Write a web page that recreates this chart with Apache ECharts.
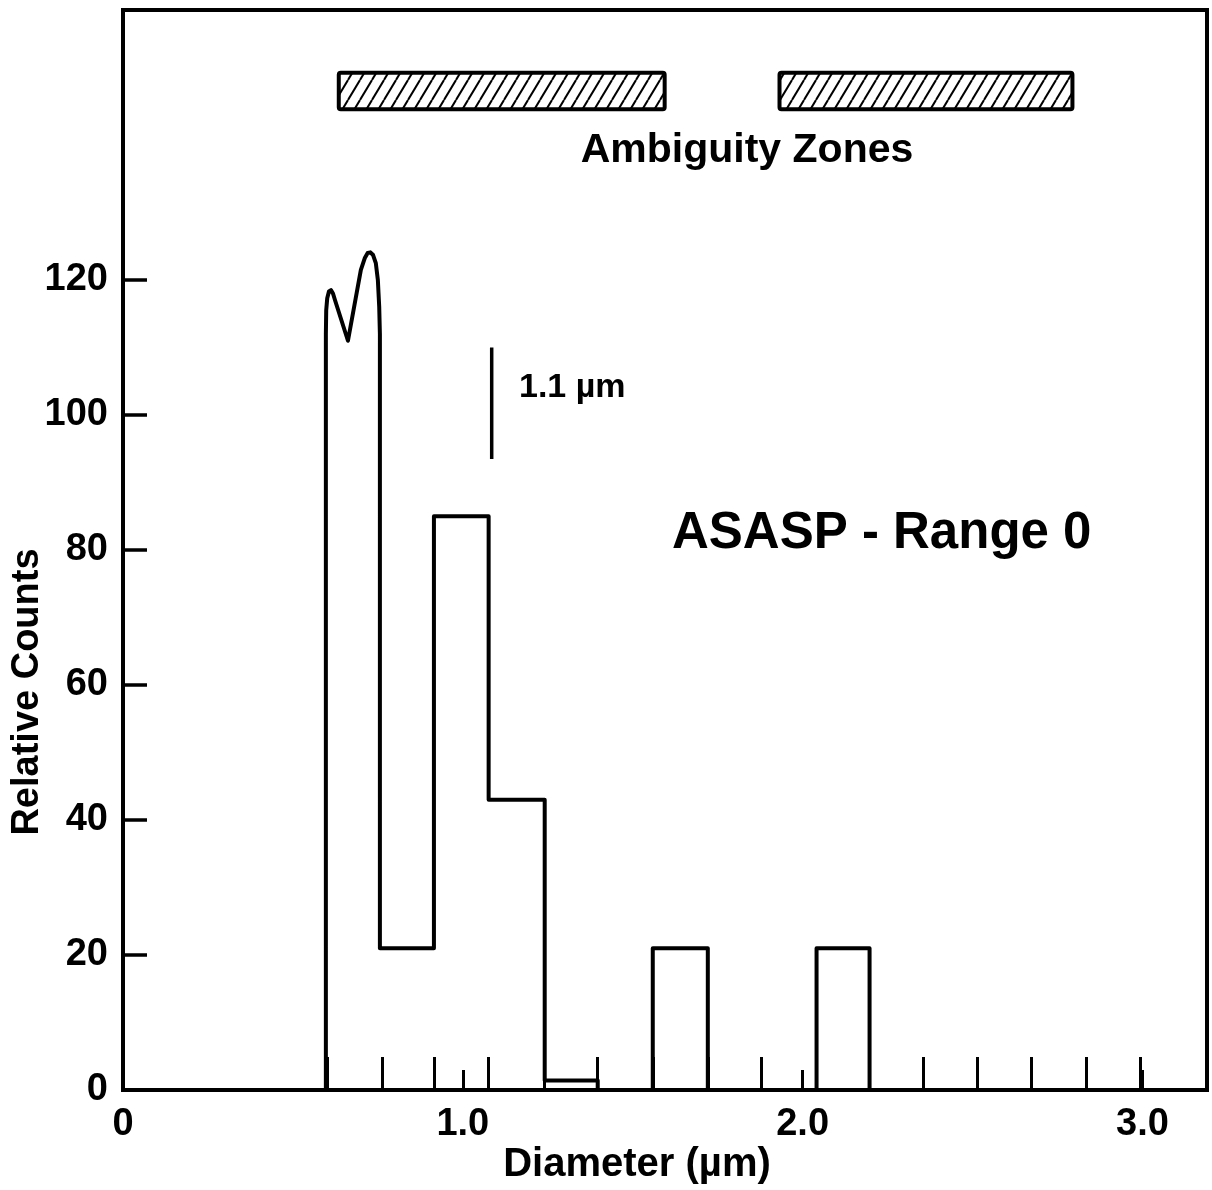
<!DOCTYPE html>
<html>
<head>
<meta charset="utf-8">
<script src="https://cdn.jsdelivr.net/npm/echarts@6/dist/echarts.min.js"></script>
<style>
html,body{margin:0;padding:0;background:#fff;}
#chart{width:1212px;height:1190px;}
</style>
</head>
<body>
<div id="chart"></div>
<script>
// ---- data ----
// channel boundaries of the ASASP range-0 (µm)
const channelEdges = [0.600, 0.762, 0.915, 1.076, 1.241, 1.397, 1.559, 1.721, 1.879, 2.041, 2.197, 2.356, 2.515, 2.674, 2.835, 2.994];
// relative counts per channel (first channel drawn as a curved top)
const binCounts = [null, 21, 85, 43, 1.4, 0, 21, 0, 0, 21];
// curved top of the first channel
const firstBinX = [0.597, 0.597, 0.598, 0.601, 0.606, 0.612, 0.618, 0.624, 0.662, 0.700, 0.712, 0.720, 0.728, 0.736, 0.744, 0.750, 0.754, 0.756];
const firstBinY = [0, 112, 115.5, 117.3, 118.3, 118.5, 118, 117, 111, 121.5, 123.3, 124, 124.1, 123.7, 122.5, 120, 116, 112];
// ambiguity zones (µm) and their drawn band (counts)
const zoneStart = [0.635, 1.932];
const zoneEnd = [1.594, 2.794];
const zoneLow = [145.3, 145.3];
const zoneHigh = [150.7, 150.7];
// 1.1 µm marker
const markerX = [1.085, 1.085];
const markerY = [93.5, 110];
// axis ticks
const xTickValues = [1, 2, 3];
const xLabelValues = [0, 1, 2, 3];
const yTickValues = [0, 20, 40, 60, 80, 100, 120];

// ---- build outline ----
const outline = [];
for (let i = 0; i < firstBinX.length; i++) outline.push([firstBinX[i], firstBinY[i]]);
for (let i = 1; i < binCounts.length; i++) {
  const left = (i === 1) ? firstBinX[firstBinX.length - 1] : channelEdges[i];
  outline.push([left, binCounts[i]]);
  outline.push([channelEdges[i + 1], binCounts[i]]);
}
outline.push([channelEdges[binCounts.length], 0]);

const zoneData = zoneStart.map((s, i) => [s, zoneEnd[i], zoneLow[i], zoneHigh[i]]);
const markerData = markerX.map((x, i) => [x, markerY[i]]);

// hatch pattern
const hatch = document.createElement('canvas');
hatch.width = 12; hatch.height = 20;
(function(){
  const c = hatch.getContext('2d');
  c.fillStyle = '#fff'; c.fillRect(0, 0, 12, 20);
  c.strokeStyle = '#000'; c.lineWidth = 2;
  [-12, 0, 12].forEach(dx => {
    c.beginPath(); c.moveTo(dx, 20); c.lineTo(dx + 12, 0); c.stroke();
  });
})();

const FONT = '"Liberation Sans", Arial, Helvetica, sans-serif';
const chart = echarts.init(document.getElementById('chart'), null, {renderer: 'canvas'});

chart.setOption({
  animation: false,
  backgroundColor: '#fff',
  grid: {left: 123, right: 5, top: 10, bottom: 100, show: true, borderColor: '#000', borderWidth: 4, backgroundColor: 'transparent'},
  xAxis: [{
    type: 'value', min: 0, max: 3.19, position: 'bottom',
    axisLine: {show: true, lineStyle: {color: '#000', width: 4}},
    axisTick: {show: true, inside: true, length: 20, lineStyle: {color: '#000', width: 3}, customValues: xTickValues},
    axisLabel: {show: true, customValues: xLabelValues, margin: 16, color: '#000', fontFamily: FONT, fontWeight: 'bold', fontSize: 38,
      formatter: v => v === 0 ? '0' : v.toFixed(1)},
    splitLine: {show: false}
  }, {
    type: 'value', min: 0, max: 3.19, position: 'bottom', gridIndex: 0,
    axisLine: {show: false},
    axisTick: {show: true, inside: true, length: 33, lineStyle: {color: '#000', width: 3}, customValues: channelEdges},
    axisLabel: {show: false},
    splitLine: {show: false}
  }],
  yAxis: {
    type: 'value', min: 0, max: 160, interval: 20,
    axisLine: {show: true, lineStyle: {color: '#000', width: 4}},
    axisTick: {show: true, inside: true, length: 24, lineStyle: {color: '#000', width: 3.5}, customValues: yTickValues},
    axisLabel: {show: true, customValues: yTickValues, margin: 15, color: '#000', fontFamily: FONT, fontWeight: 'bold', fontSize: 38},
    splitLine: {show: false}
  },
  series: [{
    type: 'line', data: outline, showSymbol: false, symbol: 'none', smooth: false,
    lineStyle: {color: '#000', width: 4, join: 'round'}, z: 5
  }, {
    type: 'line', data: markerData, showSymbol: false, symbol: 'none',
    lineStyle: {color: '#000', width: 3.5}
  }, {
    type: 'custom', data: zoneData,
    renderItem: function(params, api) {
      const p1 = api.coord([api.value(0), api.value(3)]);
      const p2 = api.coord([api.value(1), api.value(2)]);
      return {
        type: 'rect',
        shape: {x: p1[0], y: p1[1], width: p2[0] - p1[0], height: p2[1] - p1[1], r: 2},
        style: {fill: {image: hatch, repeat: 'repeat'}, stroke: '#000', lineWidth: 4}
      };
    }
  }],
  graphic: [
    {type: 'text', x: 747, y: 151, style: {text: 'Ambiguity Zones', textAlign: 'center', textVerticalAlign: 'middle', font: 'bold 41px ' + FONT, fill: '#000'}},
    {type: 'text', x: 672, y: 534, style: {text: 'ASASP - Range 0', textAlign: 'left', textVerticalAlign: 'middle', font: 'bold 51px ' + FONT, fill: '#000'}},
    {type: 'text', x: 519, y: 388, style: {text: '1.1 µm', textAlign: 'left', textVerticalAlign: 'middle', font: 'bold 34px ' + FONT, fill: '#000'}},
    {type: 'text', x: 637, y: 1165, style: {text: 'Diameter (µm)', textAlign: 'center', textVerticalAlign: 'middle', font: 'bold 40px ' + FONT, fill: '#000'}},
    {type: 'text', x: 28, y: 692, rotation: Math.PI / 2, style: {text: 'Relative Counts', textAlign: 'center', textVerticalAlign: 'middle', font: 'bold 38px ' + FONT, fill: '#000'}}
  ]
});
</script>
</body>
</html>
